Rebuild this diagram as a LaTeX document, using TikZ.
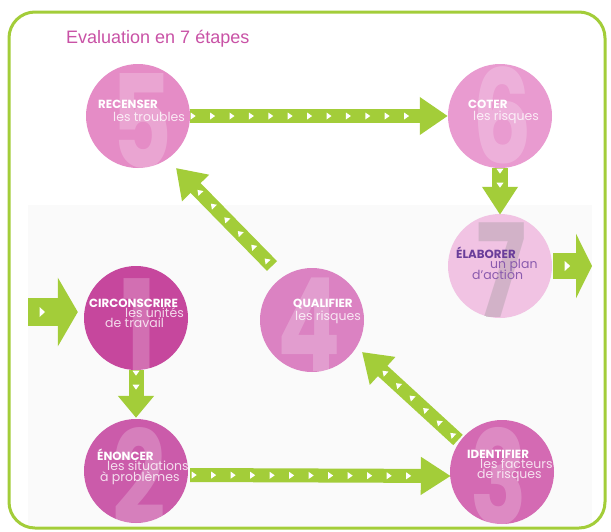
\documentclass[tikz,border=0pt]{standalone}
\usepackage{fontspec}
\setmainfont{Poppins}
\newfontfamily\titlefont{Liberation Sans}
\usetikzlibrary{arrows.meta,decorations.markings,calc}
\definecolor{grn}{HTML}{A3CD39}
\definecolor{titlepink}{HTML}{C952A6}
\definecolor{cone}{HTML}{C6479D}
\definecolor{ctwo}{HTML}{CB5BAA}
\definecolor{cthree}{HTML}{D46AB3}
\definecolor{cfour}{HTML}{DB82C2}
\definecolor{cfive}{HTML}{E58CC6}
\definecolor{csix}{HTML}{E99BD0}
\definecolor{cseven}{HTML}{F1C3E3}
\definecolor{purp}{HTML}{6A3D9A}
\definecolor{purpl}{HTML}{8A5BAE}
\newcommand\chevmark{\fill[white] (-2.5pt,-3.5pt) -- (2.5pt,0pt) -- (-2.5pt,3.5pt) -- cycle;}
\newcommand\bigchevmark{\fill[white] (-2.5pt,-5pt) -- (3pt,0pt) -- (-2.5pt,5pt) -- cycle;}
\tikzset{
  circ/.style={circle, inner sep=0pt, minimum size=104pt},
  digit/.style={text=white, text opacity=0.22, inner sep=0pt,
    font=\bfseries\fontsize{130}{130}\selectfont},
  captext/.style={anchor=base west, text=white, inner sep=0pt,
    font=\bfseries\fontsize{11.8}{13}\selectfont},
  subtext/.style={anchor=base west, text=white, text opacity=0.8, inner sep=0pt,
    font=\fontsize{12.5}{14}\selectfont},
  flow/.style n args={3}{draw=grn, line width=#1,
    -{Triangle[width=#2, length=#3, fill=grn]}},
  chevs/.style n args={3}{postaction={decorate, decoration={markings,
    mark=between positions #1 and #2 step #3 with {\chevmark}}}},
  bigchev/.style={postaction={decorate, decoration={markings,
    mark=at position #1 with {\bigchevmark}}}}
}
\begin{document}
\begin{tikzpicture}[x=1pt,y=-1pt]
\useasboundingbox (0,0) rectangle (611,531);
\fill[white] (0,0) rectangle (611,531);
\fill[black!2] (28,205) rectangle (592,526);
\draw[grn, line width=3pt, rounded corners=26pt] (9,12) rectangle (605,528);
\node[anchor=base west, inner sep=0pt, text=titlepink,
  font=\titlefont\fontsize{18}{20}\selectfont] (title) at (66,43) {Evaluation en 7 étapes};

% circles
\node[circ, fill=cfive] (c5) at (138,116) {};
\node[circ, fill=csix] (c6) at (500,116) {};
\node[circ, fill=cseven] (c7) at (500,266) {};
\node[circ, fill=cone] (c1) at (136,318) {};
\node[circ, fill=cfour] (c4) at (312,320) {};
\node[circ, fill=ctwo] (c2) at (136,471) {};
\node[circ, fill=cthree] (c3) at (502,472) {};

% digits
\begin{scope}\clip (c5.center) circle (52pt);
\node[digit] (d5) at (142,121) {\scalebox{0.72}[1]{5}};\end{scope}
\begin{scope}\clip (c6.center) circle (52pt);
\node[digit] (d6) at (502,115) {\scalebox{0.72}[1]{6}};\end{scope}
\begin{scope}\clip (c7.center) circle (52pt);
\node[digit, text=black!45, text opacity=0.3] (d7) at (502,270) {\scalebox{0.72}[1]{7}};\end{scope}
\begin{scope}\clip (c1.center) circle (52pt);
\node[digit] (d1) at (139,326) {\scalebox{0.72}[1]{1}};\end{scope}
\begin{scope}\clip (c4.center) circle (52pt);
\node[digit] (d4) at (309,325) {\scalebox{0.72}[1]{4}};\end{scope}
\begin{scope}\clip (c2.center) circle (52pt);
\node[digit] (d2) at (139,476) {\scalebox{0.72}[1]{2}};\end{scope}
\begin{scope}\clip (c3.center) circle (52pt);
\node[digit] (d3) at (499,476) {\scalebox{0.72}[1]{3}};\end{scope}

% labels
\node[captext] (l5a) at (98,108) {RECENSER};
\node[subtext] (l5b) at (113,121) {les troubles};
\node[captext] (l6a) at (468,108) {COTER};
\node[subtext] (l6b) at (473,120) {les risques};
\node[captext, text=purp] (l7a) at (456,258) {ÉLABORER};
\node[subtext, text=purpl, text opacity=1] (l7b) at (490,268) {un plan};
\node[subtext, text=purpl, text opacity=1] (l7c) at (472,279) {d’action};
\node[captext] (l1a) at (89,307) {CIRCONSCRIRE};
\node[subtext] (l1b) at (125,317) {les unités};
\node[subtext] (l1c) at (105,327) {de travail};
\node[captext] (l2a) at (97,460) {ÉNONCER};
\node[subtext] (l2b) at (107,470) {les situations};
\node[subtext] (l2c) at (100,481) {à problèmes};
\node[captext] (l3a) at (467,458) {IDENTIFIER};
\node[subtext] (l3b) at (480,468) {les facteurs};
\node[subtext] (l3c) at (477,478) {de risques};
\node[captext] (l4a) at (293,307) {QUALIFIER};
\node[subtext] (l4b) at (295,320) {les risques};

% arrow end points
\coordinate (in0) at (28,312);
\coordinate (in1) at ($(c1.west)+(-6,-6)$);
\coordinate (a56) at (c5.east);
\coordinate (b56) at (c6.west);
\coordinate (a67) at (c6.south);
\coordinate (b67) at ($(c7.north)+(0,1)$);
\coordinate (a7) at ($(c7.east)+(1,0)$);
\coordinate (out7) at (592,266);
\coordinate (a12) at (c1.south);
\coordinate (b12) at ($(c2.north)+(0,-1)$);
\coordinate (a23) at ($(c2.east)+(2,4)$);
\coordinate (b23) at ($(c3.west)+(1,4)$);
\coordinate (a34) at ($(c3.center)+(-44,-32)$);
\coordinate (b34) at ($(c4.center)+(50,32)$);
\coordinate (a45) at ($(c4.center)+(-40,-54)$);
\coordinate (b45) at ($(c5.center)+(38,52)$);

% arrows
\draw[flow={28pt}{68pt}{20pt}, bigchev=14pt] (in0) -- (in1);
\draw[flow={14pt}{36pt}{28pt}, chevs={3pt}{217pt}{19.4pt}] (a56) -- (b56);
\draw[flow={16pt}{34pt}{28pt}, chevs={3pt}{17pt}{14pt}] (a67) -- (b67);
\draw[flow={26pt}{64pt}{16pt}, bigchev=14pt] (a7) -- (out7);
\draw[flow={15pt}{35pt}{22pt}, chevs={3pt}{17pt}{14pt}] (a12) -- (b12);
\draw[flow={14pt}{36pt}{30pt}, chevs={4pt}{219pt}{19.5pt}] (a23) -- (b23);
\draw[flow={14pt}{36pt}{28pt}, chevs={8pt}{100pt}{18.4pt}] (a34) -- (b34);
\draw[flow={14pt}{36pt}{28pt}, chevs={8pt}{104pt}{19.2pt}] (a45) -- (b45);
\end{tikzpicture}
\end{document}
